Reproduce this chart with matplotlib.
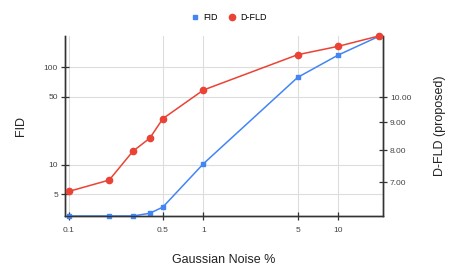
import matplotlib.pyplot as plt
from matplotlib.ticker import FixedLocator, NullLocator, FixedFormatter

plt.rcParams['font.family'] = ['Liberation Sans', 'DejaVu Sans']

# noise levels (%)
noise = [0.1, 0.2, 0.3, 0.4, 0.5, 1, 5, 10, 20]
fid = [3.0, 3.0, 3.0, 3.2, 3.7, 10.3, 79, 134, 208]
dfld = [6.73, 7.06, 7.97, 8.42, 9.14, 10.31, 11.96, 12.39, 12.94]

x_ticks = [0.1, 0.5, 1, 5, 10]
fid_ticks = [5, 10, 50, 100]
dfld_ticks = [7, 8, 9, 10]

blue = '#4285F4'
red = '#EA4335'
axis_col = '#333333'
grid_col = '#dddddd'

fig = plt.figure(figsize=(4.54, 2.77), dpi=100)
ax = fig.add_axes([65 / 454, 1 - 216 / 277, 318 / 454, 180 / 277])
ax2 = ax.twinx()

ax.set_xscale('log')
ax.set_yscale('log')
ax2.set_yscale('log')
ax.set_xlim(0.094, 21.5)
ax.set_ylim(3.0, 210)
ax2.set_ylim(6.07, 12.94)

ax.plot(noise, fid, color=blue, lw=1.1, marker='s', ms=3.2, label='FID',
        clip_on=False, zorder=3)
ax2.plot(noise, dfld, color=red, lw=1.1, marker='o', ms=4.5, label='D-FLD',
         clip_on=False, zorder=3)

ax.xaxis.set_major_locator(FixedLocator(x_ticks))
ax.xaxis.set_major_formatter(FixedFormatter(['0.1', '0.5', '1', '5', '10']))
ax.xaxis.set_minor_locator(NullLocator())
ax.yaxis.set_major_locator(FixedLocator(fid_ticks))
ax.yaxis.set_major_formatter(FixedFormatter([str(v) for v in fid_ticks]))
ax.yaxis.set_minor_locator(NullLocator())
ax2.yaxis.set_major_locator(FixedLocator(dfld_ticks))
ax2.yaxis.set_major_formatter(FixedFormatter(['%.2f' % v for v in dfld_ticks]))
ax2.yaxis.set_minor_locator(NullLocator())

ax.grid(True, color=grid_col, lw=0.8)
ax.set_axisbelow(True)

for a in (ax, ax2):
    a.spines['top'].set_visible(False)
    for s in ('left', 'right', 'bottom'):
        a.spines[s].set_color(axis_col)
        a.spines[s].set_linewidth(1.0)
    a.tick_params(which='major', direction='inout', length=6, width=0.9,
                  color=axis_col, labelsize=6, labelcolor='#444444', pad=2)
ax.tick_params(axis='x', pad=5)

ax.set_xlabel('Gaussian Noise %', fontsize=9, labelpad=14, color='#222222')
ax.set_ylabel('FID', fontsize=9, labelpad=12, color='#222222')
ax2.set_ylabel('D-FLD (proposed)', fontsize=9, labelpad=16, color='#222222')

h1, l1 = ax.get_legend_handles_labels()
h2, l2 = ax2.get_legend_handles_labels()
leg = fig.legend(h1 + h2, l1 + l2, loc='center', bbox_to_anchor=(0.505, 1 - 18 / 277),
                 ncol=2, frameon=False, fontsize=6.5, handlelength=0.8,
                 handletextpad=0.5, columnspacing=1.2)
for line in leg.get_lines():
    line.set_linestyle('')

fig.savefig('out.png', dpi=100)
